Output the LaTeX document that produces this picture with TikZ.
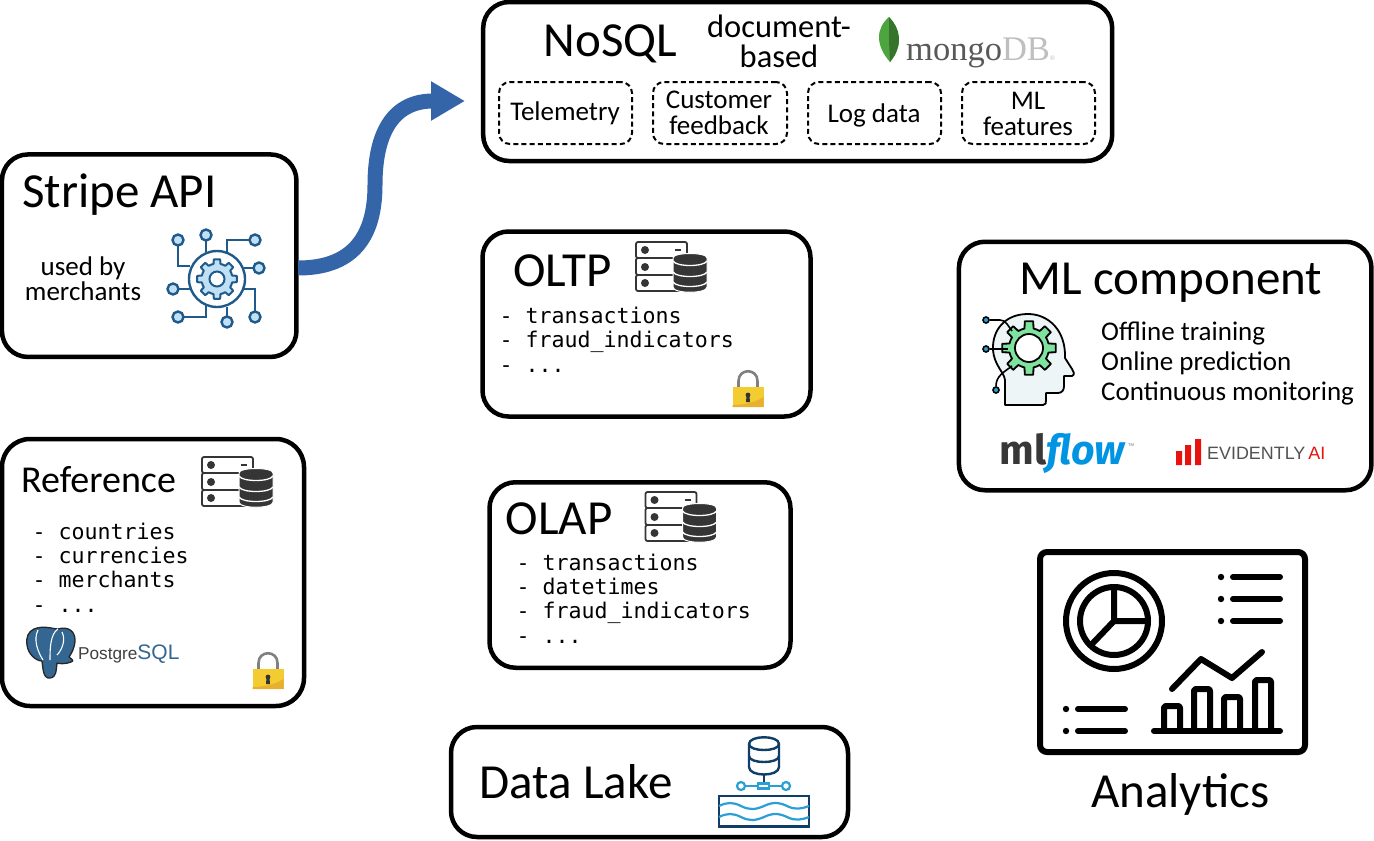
\documentclass[tikz,border=0pt]{standalone}
\usepackage{fontspec}
\usetikzlibrary{arrows.meta}
\setmainfont{Carlito}
\newfontfamily\monof{DejaVu Sans Mono}
\newfontfamily\logof{Fira Sans}
\newfontfamily\helv{Liberation Sans}
\newfontfamily\mserif{Liberation Serif}
\definecolor{arrowblue}{HTML}{3465A8}
\definecolor{iconblue}{HTML}{1F5A8A}
\definecolor{iconpale}{HTML}{BFE0F5}
\definecolor{dbdark}{HTML}{353535}
\definecolor{lakeblue}{HTML}{2A9FD6}
\definecolor{lakedark}{HTML}{0F3F68}
\definecolor{pgblue}{HTML}{336791}
\definecolor{leaf}{HTML}{4DA53F}
\definecolor{mlblue}{HTML}{0194E2}
\definecolor{evred}{HTML}{E8130F}
\definecolor{gearg}{HTML}{7FE3A0}
\definecolor{headp}{HTML}{EEF5F7}
\definecolor{lockgold}{HTML}{F2CC30}
\definecolor{lockdark}{HTML}{E8B030}
\tikzset{
  box/.style={draw=black,line width=4.5pt,rounded corners=26pt,inner sep=0pt,fill=white},
  dbox/.style={draw=black,line width=2pt,dash pattern=on 5pt off 3.2pt,rounded corners=11pt,inner sep=0pt},
  txt/.style={inner sep=0pt,anchor=base west,text=black},
  ctxt/.style={inner sep=0pt,anchor=base,text=black,align=center},
  mono/.style={inner sep=0pt,anchor=base west,align=left,font=\monof\fontsize{21.6}{24.2}\selectfont},
  bigtxt/.style={font=\fontsize{49}{52}\selectfont},
}
\newcommand\serverdb[1]{\begin{scope}[shift={(#1)}]
  \draw[dbdark,line width=1.8pt,rounded corners=2pt] (0,0) rectangle (51,16) (0,16) rectangle (51,33) (0,33) rectangle (51,49);
  \fill[dbdark] (9,8) circle (4) (9,25) circle (4) (9,41) circle (4);
  \draw[dbdark,line width=1.8pt] (39,8) -- (45,8);
  \filldraw[fill=dbdark,draw=white,line width=1pt] (37,16) .. controls (37,10) and (71,10) .. (71,16) -- (71,45) .. controls (71,52) and (37,52) .. (37,45) -- cycle;
  \draw[white,line width=1.3pt] (37,19) .. controls (40,25) and (68,25) .. (71,19) (37,30) .. controls (40,36) and (68,36) .. (71,30) ;
  \draw[white,line width=1.3pt] (37,40) .. controls (40,46) and (68,46) .. (71,40);
\end{scope}}
\newcommand\lockic[1]{\begin{scope}[shift={(#1)}]
  \draw[gray,line width=2.6pt] (6,16) -- (6,10) .. controls (6,-3) and (25,-3) .. (25,10) -- (25,16);
  \fill[lockgold] (0,16) rectangle (31,36);
  \fill[lockdark] (0,36) -- (31,36) -- (31,26) .. controls (22,32) and (10,34) .. (0,34) -- cycle;
  \fill[black!80] (15.5,24) circle (2.4) (14,25) -- (17,25) -- (17.5,31) -- (13.5,31) -- cycle;
\end{scope}}
\newcommand\gearic[7]{\begin{scope}[shift={(#1)}]
  \filldraw[fill=#5,draw=#6,line width=#7,line join=round] (-22.5:#3) \foreach \a in {0,45,...,315}{ -- (\a-13:#3) -- (\a-9:#2) -- (\a+9:#2) -- (\a+13:#3) -- (\a+22.5:#3)} -- cycle;
  \filldraw[fill=white,draw=#6,line width=#7] (0,0) circle (#4);
\end{scope}}
\begin{document}
\begin{tikzpicture}[x=1pt,y=-1pt]
\useasboundingbox (0,0) rectangle (1374,841);

% ---- main boxes
\node[box,minimum width=294.5pt,minimum height=202.5pt] (stripe) at (149.2,255.7) {};
\node[box,rounded corners=28pt,minimum width=302pt,minimum height=267pt] (refbox) at (153,572.5) {};
\node[box,minimum width=629pt,minimum height=159pt] (nosql) at (797.7,81.5) {};
\node[box,minimum width=328pt,minimum height=185pt] (oltp) at (646.5,324) {};
\node[box,minimum width=301pt,minimum height=185.5pt] (olap) at (640,575) {};
\node[box,minimum width=397pt,minimum height=110pt] (lake) at (649.5,782) {};
\node[box,minimum width=412.5pt,minimum height=248.5pt] (ml) at (1165.2,366) {};

% ---- arrow
\coordinate (atip) at (465,101);
\coordinate (astart) at (298,268);
\coordinate (amid) at (375,185);
\draw[arrowblue,line width=15pt,-{Triangle[length=34pt,width=37pt]}] (astart) .. controls (350,268) and (375,240) .. (amid) .. controls (375,130) and (395,101) .. (atip);

% ---- Stripe
\node[txt,bigtxt] (stripeT) at (22,207) {Stripe API};
\node[ctxt,font=\fontsize{27}{25}\selectfont] (stripeS) at (83,300) {used by\\merchants};
\begin{scope}[iconblue,line width=2.4pt]
  \draw (178,240) -- (178,266) -- (190,266);
  \draw (206,235) -- (206,252);
  \draw (227,252) -- (227,240) -- (255,240);
  \draw (244,268) -- (259,268);
  \draw (173,289) -- (190,289);
  \draw (178,317) -- (206,317) -- (206,305);
  \draw (227,307) -- (227,322);
  \draw (244,289) -- (255,289) -- (255,317);
  \draw[fill=white] (217,279) circle (28);
  \foreach \p in {(178,240),(206,235),(255,240),(259,268),(173,289),(178,317),(227,322),(255,317)}
    \filldraw[fill=iconpale] \p circle (5.5);
\end{scope}
\gearic{217,279}{20}{15.5}{7.5}{iconpale}{iconblue}{2pt}

% ---- Reference
\node[txt,font=\fontsize{38}{40}\selectfont] (refT) at (21,492) {Reference};
\serverdb{202,457}
\node[mono] (refL) at (32.5,612) {-\ countries\\-\ currencies\\-\ merchants\\-\ ...};
\lockic{252.5,653}
% elephant
\filldraw[fill=pgblue,draw=black!85,line width=1.3pt,line join=round] (34,629) .. controls (44,625) and (53,629) .. (58,629) .. controls (68,626) and (75,631) .. (75,640) .. controls (75,648) and (71,654) .. (69,657) .. controls (73,660) and (74,661) .. (71,662) .. controls (66,664) and (59,664) .. (57,663) .. controls (56,670) and (57,677) .. (50,678) .. controls (43,679) and (43,668) .. (42,661) .. controls (36,661) and (28,654) .. (27,645) .. controls (26,637) and (28,632) .. (34,629) -- cycle;
\draw[white,line width=1.1pt] (58,629) .. controls (50,634) and (50,650) .. (50,660) (38,630) .. controls (33,640) and (38,652) .. (43,660) (62,632) .. controls (66,640) and (62,650) .. (57,655);
\node[txt,text=black!75,font=\helv\fontsize{17.2}{20}\selectfont] (pgT) at (78,659) {Postgre\textcolor{pgblue}{\fontsize{21}{21}\selectfont SQL}};

% ---- NoSQL
\node[txt,bigtxt] (nosqlT) at (543.5,56) {NoSQL};
\node[ctxt,font=\fontsize{32.5}{30}\selectfont] (docT) at (779,67) {document-\\based};
\filldraw[fill=leaf,draw=none] (889,17) .. controls (900,28) and (904,45) .. (890,62) .. controls (875,45) and (876,28) .. (889,17) -- cycle;
\fill[leaf!70!black] (889,17) .. controls (900,28) and (904,45) .. (890,62) -- (889,40) -- cycle;
\node[txt,text=black!65,font=\mserif\fontsize{34.5}{34}\selectfont] (mongoT) at (906,60) {mongo\textcolor{black!25}{DB}\textcolor{black!25}{\fontsize{7}{7}\selectfont ®}};
\node[dbox,minimum width=133pt,minimum height=62pt] (d1) at (565.5,113) {};
\node[dbox,minimum width=134pt,minimum height=62pt] (d2) at (720,113) {};
\node[dbox,minimum width=133pt,minimum height=62pt] (d3) at (874.5,113) {};
\node[dbox,minimum width=133pt,minimum height=62pt] (d4) at (1028.5,113) {};
\node[ctxt,font=\fontsize{27}{27}\selectfont] (t1) at (565,120) {Telemetry};
\node[ctxt,font=\fontsize{27}{26}\selectfont] (t2) at (719,134) {Customer\\feedback};
\node[ctxt,font=\fontsize{27}{27}\selectfont] (t3) at (874,122) {Log data};
\node[ctxt,font=\fontsize{27}{26}\selectfont] (t4) at (1028,135) {ML\\features};

% ---- OLTP
\node[txt,bigtxt] (oltpT) at (513,286) {OLTP};
\serverdb{636,242}
\node[mono] (oltpL) at (499.5,372) {-\ transactions\\-\ fraud\_indicators\\-\ ...};
\lockic{732.5,371}

% ---- OLAP
\node[txt,bigtxt] (olapT) at (505.5,534) {OLAP};
\serverdb{645.5,492}
\node[mono] (olapL) at (516.5,643) {-\ transactions\\-\ datetimes\\-\ fraud\_indicators\\-\ ...};

% ---- Data Lake
\node[txt,bigtxt] (lakeT) at (479.5,798) {Data Lake};
\begin{scope}[lakedark,line width=2.4pt]
  \draw[fill=white] (749,744) .. controls (749,735) and (779,735) .. (779,744) -- (779,767) .. controls (779,777) and (749,777) .. (749,767) -- cycle;
  \draw (749,744) .. controls (749,752) and (779,752) .. (779,744);
  \draw (749,756) .. controls (749,764) and (779,764) .. (779,756);
  \draw (764,775) -- (764,786);
  \draw[fill=white] (719,796) rectangle (809,826);
  \draw[line width=3.5pt] (718,826.5) -- (810,826.5);
\end{scope}
\begin{scope}[lakeblue,line width=2.2pt]
  \draw (745,786) -- (782,786);
  \filldraw[fill=white] (741,786) circle (4) (786,786) circle (4);
  \filldraw[fill=white] (758,783.5) rectangle (769,788.5);
  \foreach \yy in {806,817}{
    \draw (719,\yy) .. controls (727,\yy-4) and (733,\yy-4) .. (741,\yy) .. controls (749,\yy+4) and (755,\yy+4) .. (764,\yy) .. controls (772,\yy-4) and (779,\yy-4) .. (787,\yy) .. controls (795,\yy+4) and (801,\yy+3) .. (809,\yy);
  }
\end{scope}

% ---- ML component
\node[ctxt,bigtxt] (mlT) at (1171,294) {ML component};
\node[txt,font=\fontsize{27}{30}\selectfont,align=left] (mlL) at (1101,400) {Offline training\\Online prediction\\Continuous monitoring};
\filldraw[fill=headp,draw=black,line width=1.8pt,line join=round] (1005,405) -- (1043,405) .. controls (1046,405) and (1046,403) .. (1046,400) -- (1046,393) -- (1058,393) .. controls (1062,393) and (1064,390) .. (1064,386) -- (1064,376) -- (1072,376) .. controls (1075,375) and (1074,371) .. (1072,369) -- (1065,358) .. controls (1066,330) and (1048,314) .. (1028,314) .. controls (1005,314) and (992,330) .. (993,350) .. controls (994,365) and (1004,372) .. (1005,380) -- cycle;
\gearic{1029,348}{27}{20}{14}{gearg}{black}{1.8pt}
\begin{scope}[black,line width=1.6pt]
  \draw (990,320) -- (1000,320) .. controls (1006,320) and (1008,326) .. (1012,331);
  \draw (990,349) -- (1008,349);
  \draw (996,386) .. controls (996,376) and (1004,372) .. (1012,366);
  \filldraw[fill=lakeblue] (986,320) circle (3) (986,349) circle (3) (996,390) circle (3);
\end{scope}
\node[txt,text=black!78,font=\logof\bfseries\fontsize{41}{41}\selectfont] (mlf) at (999.5,464) {ml\textcolor{mlblue}{\itshape flow}};
\node[txt,text=black!60,font=\helv\fontsize{4}{4}\selectfont] (tm) at (1128,446) {TM};
\fill[evred] (1176,451) rectangle (1182,465) (1185,445) rectangle (1191,465) (1195,439) rectangle (1201,465);
\node[txt,text=black!68,font=\helv\fontsize{17.9}{20}\selectfont] (ev) at (1207,459) {EVIDENTLY\,\textcolor{evred}{AI}};

% ---- Analytics dashboard
\draw[line width=6pt,rounded corners=7pt] (1040,552) rectangle (1305,752);
\begin{scope}[line width=6pt,line cap=round,line join=round,black]
  \draw (1114,621) circle (48) (1114,621) circle (34);
  \draw (1114,588) -- (1114,621) -- (1146,621) (1114,621) -- (1093,643);
  \foreach \yy in {577,599,621}{
    \draw (1233,\yy) -- (1280,\yy);
    \fill (1221,\yy) circle (3.2);
  }
  \foreach \yy in {709,731}{
    \draw (1078,\yy) -- (1125,\yy);
    \fill (1066,\yy) circle (3.2);
  }
  \draw (1154,731) -- (1280,731);
  \draw[rounded corners=2pt] (1164,731) -- (1164,706) -- (1180,706) -- (1180,731);
  \draw[rounded corners=2pt] (1194,731) -- (1194,689) -- (1210,689) -- (1210,731);
  \draw[rounded corners=2pt] (1224,731) -- (1224,697) -- (1240,697) -- (1240,731);
  \draw[rounded corners=2pt] (1255,731) -- (1255,680) -- (1271,680) -- (1271,731);
  \draw (1172,689) -- (1201,659) -- (1232,678) -- (1262,652);
\end{scope}
\node[txt,bigtxt] (anaT) at (1091,807) {Analytics};
\end{tikzpicture}
\end{document}
